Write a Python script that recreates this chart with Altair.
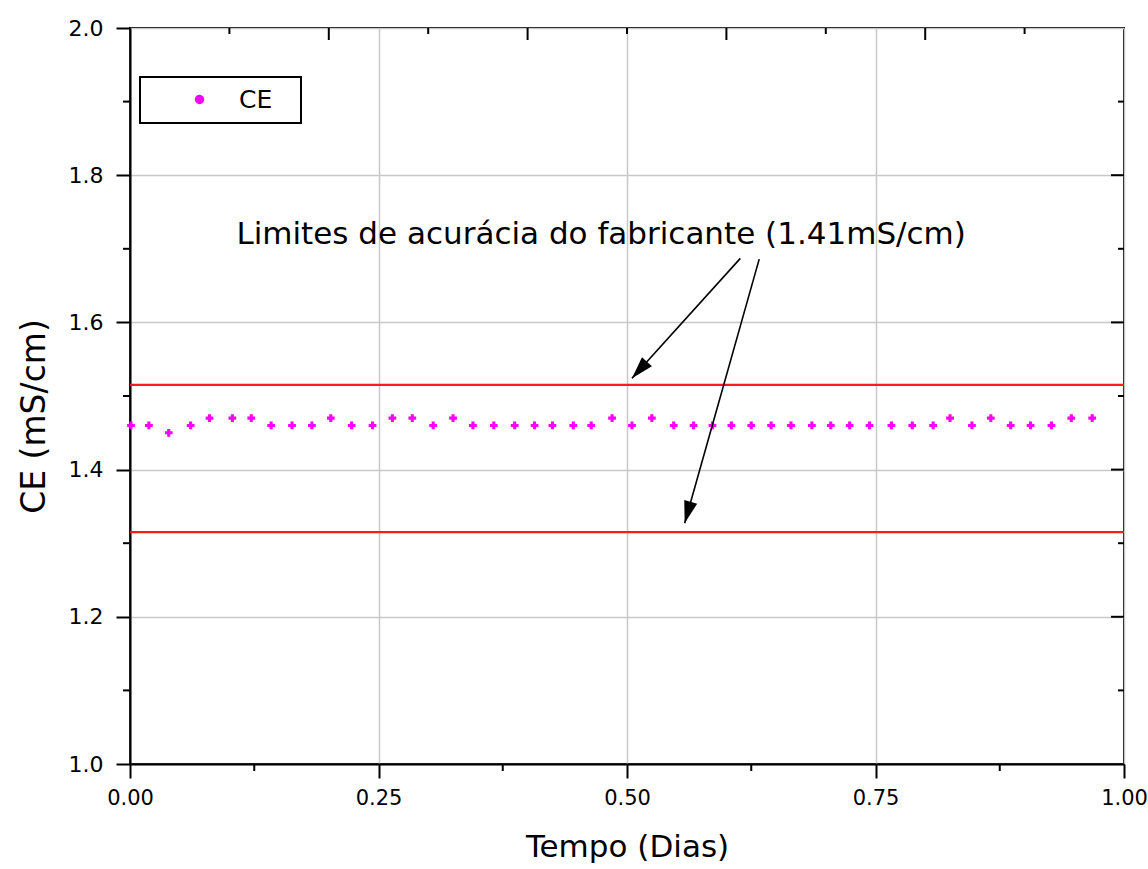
import math
import altair as alt
import pandas as pd

# ---- data ----
tempo_dias = [0.001, 0.019, 0.039, 0.061, 0.080, 0.103, 0.122, 0.142, 0.163, 0.183,
              0.202, 0.223, 0.244, 0.264, 0.284, 0.305, 0.325, 0.345, 0.366, 0.387,
              0.407, 0.425, 0.446, 0.464, 0.485, 0.505, 0.525, 0.547, 0.567, 0.586,
              0.605, 0.625, 0.645, 0.665, 0.686, 0.705, 0.724, 0.744, 0.766, 0.787,
              0.808, 0.825, 0.847, 0.866, 0.886, 0.906, 0.927, 0.947, 0.968]
ce_values = [1.46, 1.46, 1.45, 1.46, 1.47, 1.47, 1.47, 1.46, 1.46, 1.46,
             1.47, 1.46, 1.46, 1.47, 1.47, 1.46, 1.47, 1.46, 1.46, 1.46,
             1.46, 1.46, 1.46, 1.46, 1.47, 1.46, 1.47, 1.46, 1.46, 1.46,
             1.46, 1.46, 1.46, 1.46, 1.46, 1.46, 1.46, 1.46, 1.46, 1.46,
             1.46, 1.47, 1.46, 1.47, 1.46, 1.46, 1.46, 1.47, 1.47]
series_name = "CE"
limit_values = [1.515, 1.315]

x_major = [0.0, 0.25, 0.5, 0.75, 1.0]
x_minor = [0.125, 0.375, 0.625, 0.875]
y_major = [1.0, 1.2, 1.4, 1.6, 1.8, 2.0]
y_minor = [1.1, 1.3, 1.5, 1.7, 1.9]
top_major = [0.2, 0.4, 0.6, 0.8]
top_minor = [0.1, 0.3, 0.5, 0.7, 0.9]

annot_text = "Limites de acurácia do fabricante (1.41mS/cm)"
annot_x = [0.474]
annot_y = [1.719]
arrow_x1 = [0.614, 0.633]
arrow_y1 = [1.687, 1.686]
arrow_x2 = [0.505, 0.558]
arrow_y2 = [1.524, 1.327]

# ---- layout ----
W, H = 994, 736
FONT = "DejaVu Sans"
xs = alt.Scale(domain=[0, 1], nice=False, zero=False)
ys = alt.Scale(domain=[1, 2], nice=False, zero=False)

xax = alt.Axis(values=x_major, format=".2f", title="Tempo (Dias)",
               tickSize=14, labelPadding=9, titlePadding=24, labelFlush=False,
               labelFontSize=21, titleFontSize=31, grid=True)
yax = alt.Axis(values=y_major, format=".1f", title="CE (mS/cm)",
               tickSize=14, labelPadding=13, titlePadding=17, labelFlush=False,
               labelFontSize=22, titleFontSize=33, titleY=388, grid=True)


def X(field):
    return alt.X(field, scale=xs, axis=xax)


def Y(field):
    return alt.Y(field, scale=ys, axis=yax)


df = pd.DataFrame({"Tempo": tempo_dias, "CE": ce_values, "serie": [series_name] * len(ce_values)})

points = alt.Chart(df).mark_point(shape="cross", filled=True, size=60, opacity=1).encode(
    x=X("Tempo:Q"),
    y=Y("CE:Q"),
    color=alt.Color("serie:N", scale=alt.Scale(domain=[series_name], range=["#FF00FF"]),
                    legend=alt.Legend(title=None, orient="none", legendX=10, legendY=49,
                                      symbolType="circle", symbolSize=90, symbolOffset=37,
                                      labelOffset=27, labelFontSize=25, padding=10,
                                      fillColor="white", strokeColor="black",
                                      labelExpr="datum.label + '\u2800'")),
)

limits = alt.Chart(pd.DataFrame({"lim": limit_values})).mark_rule(
    color="#FF1A1A", strokeWidth=2.2).encode(y=Y("lim:Q"))

# arrows
adf = pd.DataFrame({"x1": arrow_x1, "y1": arrow_y1, "x2": arrow_x2, "y2": arrow_y2})
# rotation of the arrow head, clockwise from "up", computed in screen pixels
adf["ang"] = [
    (math.degrees(math.atan2((x2 - x1) * W, -((y1 - y2) * H))) + 360) % 360
    for x1, y1, x2, y2 in zip(adf["x1"], adf["y1"], adf["x2"], adf["y2"])
]
arrow_lines = alt.Chart(adf).mark_rule(color="black", strokeWidth=1.6).encode(
    x=X("x1:Q"), y=Y("y1:Q"), x2="x2:Q", y2="y2:Q")
arrow_heads = alt.Chart(adf).mark_point(
    shape="M0,0L-0.3,1L0.3,1Z", filled=True, color="black", opacity=1, size=2000).encode(
    x=X("x2:Q"), y=Y("y2:Q"),
    angle=alt.Angle("ang:Q", scale=None))

annot = alt.Chart(pd.DataFrame({"x": annot_x, "y": annot_y, "t": [annot_text]})).mark_text(
    fontSize=31, font=FONT, color="black", align="center", baseline="middle").encode(
    x=X("x:Q"), y=Y("y:Q"), text="t:N")


# extra ticks (minor outward on left/bottom, mirrored inward on top/right)
def vticks(vals, y0, y1):
    return alt.Chart(pd.DataFrame({"v": vals})).mark_rule(color="black", strokeWidth=2).encode(
        x=X("v:Q"), y=alt.value(y0), y2=alt.value(y1))


def hticks(vals, x0, x1):
    return alt.Chart(pd.DataFrame({"v": vals})).mark_rule(color="black", strokeWidth=2).encode(
        y=Y("v:Q"), x=alt.value(x0), x2=alt.value(x1))


ticks = [
    vticks(x_minor, H, H + 7),
    hticks(y_minor, -7, 0),
    vticks(top_major, 0, 12),
    vticks(top_minor, 0, 6),
    hticks(y_major[1:-1], W - 13, W),
    hticks(y_minor, W - 6, W),
]

chart = alt.layer(limits, points, arrow_lines, arrow_heads, annot, *ticks).properties(
    width=W, height=H,
    autosize=alt.AutoSizeParams(type="none"),
    padding={"left": 130, "top": 28, "right": 24, "bottom": 105},
    background="white",
).configure_view(stroke="black", strokeWidth=2).configure_axis(
    domainColor="black", domainWidth=2, tickColor="black", tickWidth=2,
    gridColor="#C8C8C8", gridWidth=1.5, labelFont=FONT, titleFont=FONT,
    labelFlush=False,
    labelColor="black", titleColor="black", titleFontWeight="normal",
).configure_legend(labelFont=FONT, labelColor="black", strokeWidth=2)

chart.save("out.html", embed_options={"renderer": "svg", "actions": False})
